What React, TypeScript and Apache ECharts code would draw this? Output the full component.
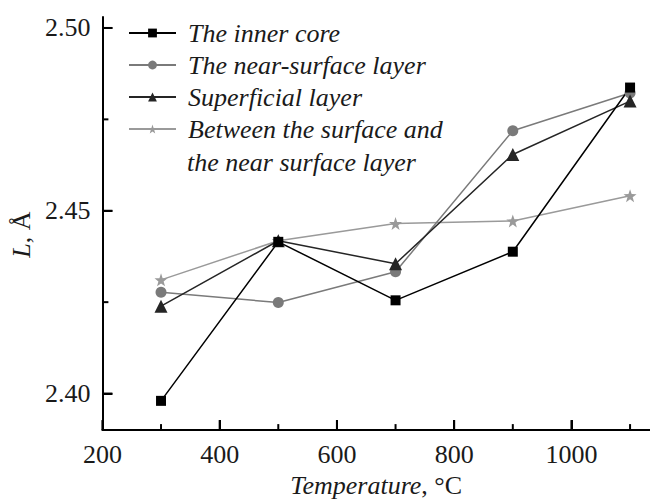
import React, { useEffect, useRef } from "react";
import * as echarts from "echarts";

const temperatures = [300, 500, 700, 900, 1100];
const innerCore = [2.398, 2.4415, 2.4255, 2.4388, 2.4837];
const nearSurface = [2.4277, 2.4249, 2.4333, 2.4719, 2.4822];
const superficial = [2.4239, 2.4418, 2.4355, 2.4654, 2.48];
const between = [2.4311, 2.4418, 2.4465, 2.4472, 2.4541];

const seriesNames = [
  "The inner core",
  "The near-surface layer",
  "Superficial layer",
  "Between the surface and the near surface layer",
];
const xMin = 200;
const xMax = 1134;
const yMin = 2.39;
const yMax = 2.503;
const xMajorTicks = [200, 400, 600, 800, 1000];
const xMinorTicks = [300, 500, 700, 900, 1100];
const yMajorTicks = [2.4, 2.45, 2.5];
const yMinorTicks = [2.425, 2.475];

const FONT = "'Liberation Serif', 'DejaVu Serif', serif";
const TXT = "#1a1a1a";
const TICK = "#000";

export default function App() {
  const ref = useRef<HTMLDivElement>(null);
  useEffect(() => {
    document.body.style.margin = "0";
    const chart = echarts.init(ref.current!, null, { renderer: "svg" });
    const pair = (ys: number[]) => temperatures.map((t, i) => [t, ys[i]]);
    const tickSeries = (data: number[][], size: number[], offset: number[]) => ({
      type: "scatter",
      silent: true,
      clip: false,
      z: 5,
      symbol: "rect",
      symbolSize: size,
      symbolOffset: offset,
      itemStyle: { color: TICK, opacity: 1 },
      data,
    });
    chart.setOption({
      animation: false,
      grid: { left: 101, right: 0, top: 17, bottom: 60 },
      legend: {
        orient: "vertical",
        left: 128,
        top: 17,
        padding: 0,
        itemGap: 0,
        itemWidth: 47,
        itemHeight: 11,
        data: seriesNames,
        formatter: (name: string) =>
          name.startsWith("Between") ? "Between the surface and" : name,
        textStyle: {
          fontFamily: FONT,
          fontStyle: "italic",
          fontSize: 26,
          color: TXT,
          lineHeight: 32,
          padding: [0, 0, 0, 7],
        },
      },
      graphic: [
        {
          type: "text",
          left: 187,
          top: 149,
          style: {
            text: "the near surface layer",
            fontFamily: FONT,
            fontStyle: "italic",
            fontSize: 26,
            fill: TXT,
          },
        },
      ],
      xAxis: {
        type: "value",
        min: xMin,
        max: xMax,
        name: "{i|Temperature}, °C",
        nameLocation: "middle",
        nameGap: 40,
        nameTextStyle: {
          fontFamily: FONT,
          fontSize: 26,
          color: TXT,
          rich: { i: { fontFamily: FONT, fontStyle: "italic", fontSize: 26, color: TXT } },
        },
        axisLine: { show: true, lineStyle: { color: TICK, width: 2 } },
        axisTick: {
          show: true,
          inside: true,
          length: 10,
          customValues: xMajorTicks,
          lineStyle: { color: TICK, width: 2 },
        },
        axisLabel: {
          customValues: xMajorTicks,
          fontFamily: FONT,
          fontSize: 26,
          color: TXT,
          margin: 11,
          formatter: (v: number) => String(v),
        },
        splitLine: { show: false },
      },
      yAxis: {
        type: "value",
        min: yMin,
        max: yMax,
        name: "{i|L}, Å",
        nameLocation: "middle",
        nameRotate: 90,
        nameGap: 64,
        nameTextStyle: {
          fontFamily: FONT,
          fontSize: 26,
          color: TXT,
          padding: [0, 22, 0, 0],
          rich: { i: { fontFamily: FONT, fontStyle: "italic", fontSize: 26, color: TXT } },
        },
        axisLine: { show: true, lineStyle: { color: TICK, width: 2 } },
        axisTick: {
          show: true,
          inside: true,
          length: 10,
          customValues: yMajorTicks,
          lineStyle: { color: TICK, width: 2 },
        },
        axisLabel: {
          customValues: yMajorTicks,
          fontFamily: FONT,
          fontSize: 26,
          color: TXT,
          margin: 12,
          formatter: (v: number) => v.toFixed(2),
        },
        splitLine: { show: false },
      },
      series: [
        tickSeries(xMajorTicks.map((v) => [v, yMin]), [2, 10], [0, -5]),
        tickSeries(xMinorTicks.map((v) => [v, yMin]), [2, 6], [0, -3]),
        tickSeries(yMajorTicks.map((v) => [xMin, v]), [10, 2], [5, 0]),
        tickSeries(yMinorTicks.map((v) => [xMin, v]), [6, 2], [3, 0]),
        {
          name: seriesNames[3],
          type: "line",
          data: pair(between),
          symbol: "path://M0,-10 L2.35,-3.24 9.51,-3.09 3.8,1.24 5.88,8.09 0,4 -5.88,8.09 -3.8,1.24 -9.51,-3.09 -2.35,-3.24 Z",
          symbolSize: 13,
          clip: false,
          lineStyle: { color: "#9a9a9a", width: 1.5 },
          itemStyle: { color: "#9a9a9a" },
        },
        {
          name: seriesNames[1],
          type: "line",
          data: pair(nearSurface),
          symbol: "circle",
          symbolSize: 11,
          clip: false,
          lineStyle: { color: "#7a7a7a", width: 1.5 },
          itemStyle: { color: "#7a7a7a" },
        },
        {
          name: seriesNames[2],
          type: "line",
          data: pair(superficial),
          symbol: "triangle",
          symbolSize: 13,
          clip: false,
          lineStyle: { color: "#252525", width: 1.5 },
          itemStyle: { color: "#252525" },
        },
        {
          name: seriesNames[0],
          type: "line",
          data: pair(innerCore),
          symbol: "rect",
          symbolSize: 10,
          clip: false,
          lineStyle: { color: "#000", width: 1.5 },
          itemStyle: { color: "#000" },
        },
      ],
    });
    return () => chart.dispose();
  }, []);
  return (
    <div
      ref={ref}
      style={{ position: "fixed", left: 0, top: 0, width: 650, height: 503, background: "#fff" }}
    />
  );
}
